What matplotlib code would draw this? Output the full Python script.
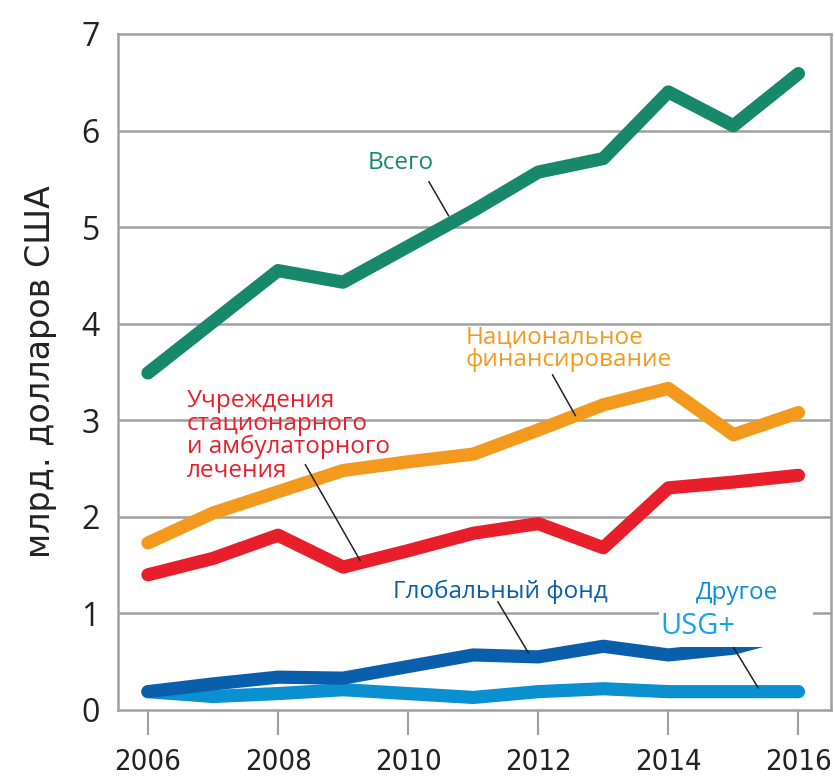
import matplotlib
matplotlib.use("Agg")
import matplotlib.pyplot as plt
from matplotlib.patches import Rectangle

years = [2006, 2007, 2008, 2009, 2010, 2011, 2012, 2013, 2014, 2015, 2016]
total = [3.49, 4.02, 4.55, 4.43, 4.80, 5.17, 5.57, 5.71, 6.40, 6.05, 6.59]
national = [1.73, 2.04, 2.26, 2.48, 2.57, 2.65, 2.90, 3.16, 3.33, 2.85, 3.08]
facilities = [1.40, 1.57, 1.81, 1.48, 1.65, 1.83, 1.93, 1.68, 2.30, 2.36, 2.43]
global_fund = [0.19, 0.27, 0.34, 0.33, 0.45, 0.57, 0.55, 0.66, 0.57, 0.64, 0.82]
other = [0.19, 0.14, 0.17, 0.21, 0.17, 0.13, 0.19, 0.22, 0.19, 0.19, 0.19]
xticks = [2006, 2008, 2010, 2012, 2014, 2016]
yticks = [0, 1, 2, 3, 4, 5, 6, 7]

c_total = "#17886a"
c_nat = "#f39a1e"
c_fac = "#e81f2a"
c_gf = "#0a5fad"
c_oth = "#0a90d0"
c_usg = "#12a6e6"

fig = plt.figure(figsize=(8.35, 7.81), dpi=100)
ax = fig.add_axes([118/835, 1-710/781, (831-118)/835, (710-34)/781])
ax.set_xlim(2005.54, 2016.5)
ax.set_ylim(0, 7)

lw = 9.5
for vals, col in [(other, c_oth), (global_fund, c_gf), (facilities, c_fac),
                  (national, c_nat), (total, c_total)]:
    ax.plot(years, vals, color=col, lw=lw, solid_capstyle="round",
            solid_joinstyle="round", zorder=3)

for y in yticks[1:-1]:
    ax.axhline(y, color="#a0a0a0", lw=1.8, zorder=1)
for s in ax.spines.values():
    s.set_color("#a0a0a0")
    s.set_linewidth(1.8)

ax.set_xticks(xticks)
ax.set_xticklabels([str(x) for x in xticks], family="DejaVu Sans",
                   stretch="condensed", fontsize=21, color="#222222")
ax.set_yticks(yticks)
ax.set_yticklabels([str(y) for y in yticks], family="Open Sans", fontsize=23, color="#222222")
ax.tick_params(axis="x", length=18, width=1.5, color="#a0a0a0", pad=9)
ax.tick_params(axis="y", length=0, pad=13)
ax.set_ylabel("млрд. долларов США", family="DejaVu Sans", fontsize=24,
              color="#222222", labelpad=18)

tf = dict(family="Open Sans", fontsize=17.5)
line_kw = dict(color="#222222", lw=1.1, zorder=5)
# Всего
ax.text(2009.37, 5.66, "Всего", color=c_total, ha="left", va="center", **tf)
ax.plot([2010.32, 2010.62], [5.47, 5.12], **line_kw)
# Национальное
ax.text(2010.88, 3.74, "Национальное\nфинансирование", color=c_nat, ha="left",
        va="center", linespacing=0.95, **tf)
ax.plot([2012.22, 2012.57], [3.47, 3.05], **line_kw)
# Учреждения
ax.text(2006.6, 2.84, "Учреждения\nстационарного\nи амбулаторного\nлечения", color=c_fac,
        ha="left", va="center", linespacing=0.95, **tf)
ax.plot([2008.42, 2009.26], [2.54, 1.55], **line_kw)
# Глобальный фонд
ax.text(2009.77, 1.22, "Глобальный фонд", color=c_gf, ha="left", va="center", **tf)
ax.plot([2011.38, 2011.85], [1.12, 0.59], **line_kw)
# Другое
ax.text(2014.42, 1.21, "Другое", color=c_oth, ha="left", va="center", **tf)
ax.plot([2015.0, 2015.38], [0.65, 0.23], **line_kw)
# USG+ box
ax.add_patch(Rectangle((2013.85, 0.652), 2.38, 0.415, facecolor="white",
                       edgecolor="none", zorder=6))
ax.text(2013.88, 0.86, "USG+", color=c_usg, ha="left", va="center",
        family="Open Sans", fontsize=21, zorder=7)

fig.savefig("out.png", dpi=100)
